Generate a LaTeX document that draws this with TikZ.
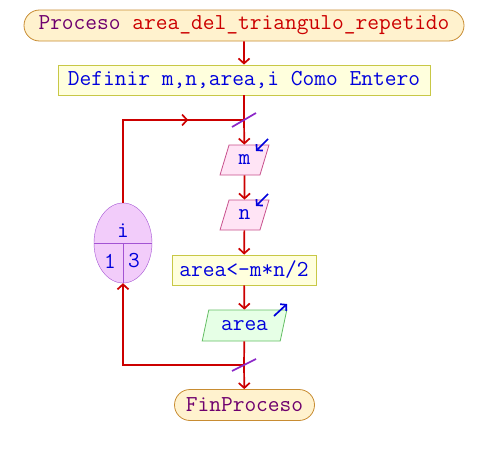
\documentclass[tikz,border=0pt]{standalone}
\usetikzlibrary{arrows.meta,shapes.misc,shapes.geometric,decorations.markings}
\definecolor{rojo}{RGB}{204,0,0}
\definecolor{morado}{RGB}{110,0,110}
\definecolor{azul}{RGB}{0,0,220}
\definecolor{violeta}{RGB}{140,40,200}
\begin{document}
\begin{tikzpicture}[x=1pt,y=-1pt,
    every node/.style={font=\ttfamily\fontsize{22.8}{24}\selectfont, inner sep=0pt},
    linea/.style={draw=rojo, line width=1.7pt},
    flecha/.style={linea, -{Straight Barb[length=5pt,width=11pt]}},
    terminal/.style={rounded rectangle, draw={rgb,255:red,200;green,140;blue,50}, fill={rgb,255:red,255;green,242;blue,206}, thick, minimum height=31pt, text=morado},
    proceso/.style={rectangle, draw={rgb,255:red,200;green,200;blue,70}, fill={rgb,255:red,255;green,255;blue,221}, thick, minimum height=30pt, text=azul},
    entrada/.style={trapezium, trapezium left angle=71, trapezium right angle=109, trapezium stretches=true, draw={rgb,255:red,200;green,80;blue,140}, fill={rgb,255:red,255;green,228;blue,245}, thick, minimum width=49pt, minimum height=30pt, text=azul},
    salida/.style={trapezium, trapezium left angle=67, trapezium right angle=113, trapezium stretches=true, draw={rgb,255:red,100;green,190;blue,100}, fill={rgb,255:red,230;green,255;blue,230}, thick, minimum width=85pt, minimum height=31pt, text=azul},
    corte/.style={draw=violeta, line width=1.7pt},
    dato/.style={draw=azul, line width=1.7pt, -{Straight Barb[length=4pt,width=9pt]}}]
    \useasboundingbox (0,0) rectangle (488,455);
    \node[terminal, minimum width=440pt] (inicio) at (244,25.5) {Proceso \textcolor{rojo}{area\_del\_triangulo\_repetido}};
    \node[proceso, minimum width=372pt] (definir) at (244,80) {Definir m,n,area,i Como Entero};
    \coordinate (j1) at (244,120);
    \node[entrada] (leem) at (244.5,160) {m};
    \node[entrada] (leen) at (244.5,215) {n};
    \node[proceso, minimum width=144pt] (calc) at (244,270) {area<-m*n/2};
    \node[salida] (escribe) at (244.5,325.5) {area};
    \coordinate (j2) at (244,365);
    \node[terminal, minimum width=140pt] (fin) at (244.5,405) {FinProceso};
    \node[ellipse, draw=violeta!80, fill={rgb,255:red,242;green,204;blue,250}, minimum width=58pt, minimum height=80pt] (ciclo) at (123,243) {};
    \draw[violeta!80] (ciclo.west) -- (ciclo.east);
    \draw[violeta!80] (ciclo.center) -- (ciclo.south);
    \node[text=azul] (var) at (123,231) {i};
    \node[text=azul] (desde) at (110,261) {1};
    \node[text=azul] (hasta) at (134,261) {3};
    \draw[flecha] (inicio) -- (definir);
    \draw[linea] (definir) -- (j1);
    \draw[flecha] (j1) -- (leem);
    \draw[flecha] (leem) -- (leen);
    \draw[flecha] (leen) -- (calc);
    \draw[flecha] (calc) -- (escribe);
    \draw[linea] (escribe) -- (j2);
    \draw[flecha] (j2) -- (fin);
    \draw[flecha] (j2) -| (ciclo.south);
    \draw[linea, postaction={decorate}, decoration={markings, mark=at position 148pt with {\arrow[rojo]{Straight Barb[length=5pt,width=11pt]}}}] (ciclo.north) |- (j1);
    \draw[corte] ([shift={(-12,7)}]j1) -- ([shift={(12,-7)}]j1);
    \draw[corte] ([shift={(-12,6)}]j2) -- ([shift={(12,-6)}]j2);
    \draw[dato] ([shift={(23.5,-21)}]leem.center) -- ([shift={(11.5,-9)}]leem.center);
    \draw[dato] ([shift={(23.5,-21)}]leen.center) -- ([shift={(11.5,-9)}]leen.center);
    \draw[dato] ([shift={(29.5,-9.5)}]escribe.center) -- ([shift={(42.5,-21.5)}]escribe.center);
\end{tikzpicture}
\end{document}
